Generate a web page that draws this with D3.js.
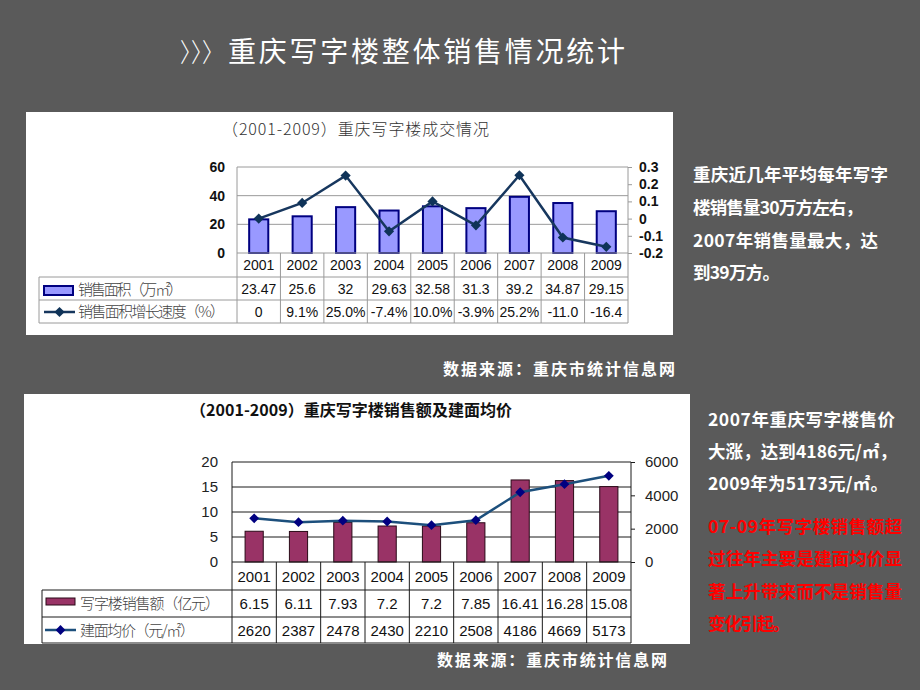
<!DOCTYPE html>
<html><head><meta charset="utf-8">
<script src="https://cdn.jsdelivr.net/npm/d3@7"></script>
<style>body{margin:0;background:#5a5a5a;} svg{display:block}</style>
</head><body>
<svg id="c" width="920" height="690"></svg>
<script>
const years = ["2001","2002","2003","2004","2005","2006","2007","2008","2009"];
const salesArea = [23.47,25.6,32,29.63,32.58,31.3,39.2,34.87,29.15];
const salesAreaLabels = ["23.47","25.6","32","29.63","32.58","31.3","39.2","34.87","29.15"];
const areaGrowth = [0,0.091,0.25,-0.074,0.10,-0.039,0.252,-0.11,-0.164];
const areaGrowthLabels = ["0","9.1%","25.0%","-7.4%","10.0%","-3.9%","25.2%","-11.0","-16.4"];
const areaTicks = [0,20,40,60];
const growthTicks = [-0.2,-0.1,0,0.1,0.2,0.3];
const salesAmount = [6.15,6.11,7.93,7.2,7.2,7.85,16.41,16.28,15.08];
const salesAmountLabels = ["6.15","6.11","7.93","7.2","7.2","7.85","16.41","16.28","15.08"];
const avgPrice = [2620,2387,2478,2430,2210,2508,4186,4669,5173];
const amountTicks = [0,5,10,15,20];
const priceTicks = [0,2000,4000,6000];

const CJK = "'Noto Sans CJK SC','Noto Sans',sans-serif";
const LAT = "'Liberation Sans',Arial,sans-serif";
const svg = d3.select("#c");
svg.append("rect").attr("width",920).attr("height",690).attr("fill","#5a5a5a");

// main title
svg.append("text").attr("x",180).attr("y",62).attr("fill","#fff")
  .style("font-family",CJK).style("font-weight",300).style("font-size","26px")
  .attr("textLength",44).attr("lengthAdjust","spacingAndGlyphs").text("〉〉〉");
svg.append("text").attr("x",228).attr("y",62).attr("fill","#fff")
  .style("font-family",CJK).style("font-weight",400).style("font-size","28px")
  .attr("textLength",397).text("重庆写字楼整体销售情况统计");

// ---------- panel 1 ----------
svg.append("rect").attr("x",26).attr("y",112).attr("width",647).attr("height",223).attr("fill","#fff");
svg.append("text").attr("x",222).attr("y",135).attr("fill","#333")
  .style("font-family",CJK).style("font-weight",300).style("font-size","16px")
  .attr("textLength",267).text("（2001-2009）重庆写字楼成交情况");

const g1 = svg.append("g");
const x1 = d3.scaleBand().domain(years).range([237,628]);
const y1 = d3.scaleLinear().domain([0,60]).range([253,167]);
const y1r = d3.scaleLinear().domain([-0.2,0.3]).range([253,167]);
const c1 = d => x1(d) + x1.bandwidth()/2;
const grid1 = "#9a9a9a";

areaTicks.filter(t=>t>0).forEach(t=>{
  g1.append("line").attr("x1",237).attr("x2",628).attr("y1",y1(t)).attr("y2",y1(t)).attr("stroke",grid1);
});
g1.append("line").attr("x1",237).attr("x2",237).attr("y1",y1(60)).attr("y2",323).attr("stroke",grid1);
g1.append("line").attr("x1",628).attr("x2",628).attr("y1",y1(60)).attr("y2",323).attr("stroke",grid1);

const axL1 = g1.append("g").attr("transform","translate(237,0)")
  .call(d3.axisLeft(y1).tickValues(areaTicks).tickSize(0).tickPadding(12));
axL1.select(".domain").remove();
axL1.selectAll("text").style("font-family",LAT).style("font-weight","bold").style("font-size","14px").attr("fill","#111");
const axR1 = g1.append("g").attr("transform","translate(628,0)")
  .call(d3.axisRight(y1r).tickValues(growthTicks).tickSize(4).tickPadding(7)
    .tickFormat(d => Math.abs(d)<1e-9 ? "0" : d.toFixed(1)));
axR1.select(".domain").remove();
axR1.selectAll("line").attr("stroke",grid1);
axR1.selectAll("text").style("font-family",LAT).style("font-weight","bold").style("font-size","14px").attr("fill","#111");

const bw1 = x1.bandwidth()*0.44;
g1.selectAll("rect.bar").data(years).join("rect").attr("class","bar")
  .attr("x",d=>c1(d)-bw1/2).attr("width",bw1)
  .attr("y",(d,i)=>y1(salesArea[i])).attr("height",(d,i)=>y1(0)-y1(salesArea[i]))
  .attr("fill","#9999ff").attr("stroke","#000080").attr("stroke-width",2);

g1.append("line").attr("x1",237).attr("x2",628).attr("y1",253).attr("y2",253).attr("stroke",grid1);

const line1 = d3.line().x((d,i)=>c1(years[i])).y(d=>y1r(d));
g1.append("path").datum(areaGrowth).attr("d",line1).attr("fill","none").attr("stroke","#17375e").attr("stroke-width",2.5);
g1.selectAll("path.mk").data(areaGrowth).join("path").attr("class","mk")
  .attr("d",d3.symbol(d3.symbolSquare,52))
  .attr("transform",(d,i)=>`translate(${c1(years[i])},${y1r(d)}) rotate(45)`)
  .attr("fill","#0f3358");

// table 1
[277,300,323].forEach(yy=>{
  g1.append("line").attr("x1",39).attr("x2",628).attr("y1",yy).attr("y2",yy).attr("stroke",grid1);
});
g1.append("line").attr("x1",39).attr("x2",39).attr("y1",277).attr("y2",323).attr("stroke",grid1);
years.slice(1).forEach(yv=>{
  g1.append("line").attr("x1",x1(yv)).attr("x2",x1(yv)).attr("y1",253).attr("y2",323).attr("stroke",grid1);
});
const tstyle = s => s.style("font-family",LAT).style("font-size","14px").attr("fill","#111").attr("text-anchor","middle");
g1.selectAll("text.yr").data(years).join("text").attr("class","yr").attr("x",d=>c1(d)).attr("y",270).text(d=>d).call(tstyle);
g1.selectAll("text.v1").data(salesAreaLabels).join("text").attr("class","v1").attr("x",(d,i)=>c1(years[i])).attr("y",294).text(d=>d).call(tstyle);
g1.selectAll("text.v2").data(areaGrowthLabels).join("text").attr("class","v2").attr("x",(d,i)=>c1(years[i])).attr("y",317).text(d=>d).call(tstyle);

g1.append("rect").attr("x",44).attr("y",286).attr("width",29).attr("height",9).attr("fill","#9999ff").attr("stroke","#000080").attr("stroke-width",2);
g1.append("text").attr("x",78).attr("y",295).attr("fill","#444").style("font-family",CJK).style("font-weight",300).style("font-size","15px").attr("textLength",105).text("销售面积（万㎡）");
g1.append("line").attr("x1",44).attr("x2",75).attr("y1",312).attr("y2",312).attr("stroke","#17375e").attr("stroke-width",2.5);
g1.append("path").attr("d",d3.symbol(d3.symbolSquare,52)).attr("transform","translate(59.5,312) rotate(45)").attr("fill","#0f3358");
g1.append("text").attr("x",78).attr("y",317).attr("fill","#444").style("font-family",CJK).style("font-weight",300).style("font-size","15px").attr("textLength",147).text("销售面积增长速度（%）");

// source 1
svg.append("text").attr("x",675).attr("y",375).attr("text-anchor","end").attr("fill","#fff")
  .style("font-family",CJK).style("font-weight","bold").style("font-size","16px").attr("textLength",232).text("数据来源：重庆市统计信息网");

// ---------- panel 2 ----------
svg.append("rect").attr("x",24).attr("y",394).attr("width",666).attr("height",250).attr("fill","#fff");
svg.append("text").attr("x",190).attr("y",416).attr("fill","#111")
  .style("font-family",CJK).style("font-weight","bold").style("font-size","16px")
  .attr("textLength",322).text("（2001-2009）重庆写字楼销售额及建面均价");

const g2 = svg.append("g");
const x2 = d3.scaleBand().domain(years).range([232,631]);
const y2 = d3.scaleLinear().domain([0,20]).range([562,462]);
const y2r = d3.scaleLinear().domain([0,6000]).range([562,462]);
const c2 = d => x2(d) + x2.bandwidth()/2;
const grid2 = "#1a1a1a";

amountTicks.filter(t=>t>0).forEach(t=>{
  g2.append("line").attr("x1",232).attr("x2",631).attr("y1",y2(t)).attr("y2",y2(t)).attr("stroke",grid2);
});
g2.append("line").attr("x1",232).attr("x2",232).attr("y1",y2(20)).attr("y2",643).attr("stroke",grid2);
g2.append("line").attr("x1",631).attr("x2",631).attr("y1",y2(20)).attr("y2",643).attr("stroke",grid2);

const axL2 = g2.append("g").attr("transform","translate(232,0)")
  .call(d3.axisLeft(y2).tickValues(amountTicks).tickSize(0).tickPadding(14));
axL2.select(".domain").remove();
axL2.selectAll("text").style("font-family",LAT).style("font-size","15px").attr("fill","#222");
const axR2 = g2.append("g").attr("transform","translate(631,0)")
  .call(d3.axisRight(y2r).tickValues(priceTicks).tickSize(4).tickPadding(10).tickFormat(d3.format("d")));
axR2.select(".domain").remove();
axR2.selectAll("line").attr("stroke",grid2);
axR2.selectAll("text").style("font-family",LAT).style("font-size","15px").attr("fill","#222");

const bw2 = x2.bandwidth()*0.41;
g2.selectAll("rect.bar").data(years).join("rect").attr("class","bar")
  .attr("x",d=>c2(d)-bw2/2).attr("width",bw2)
  .attr("y",(d,i)=>y2(salesAmount[i])).attr("height",(d,i)=>y2(0)-y2(salesAmount[i]))
  .attr("fill","#993366").attr("stroke","#2a0a18").attr("stroke-width",1);
g2.append("line").attr("x1",232).attr("x2",631).attr("y1",562).attr("y2",562).attr("stroke",grid2);

const line2 = d3.line().x((d,i)=>c2(years[i])).y(d=>y2r(d));
g2.append("path").datum(avgPrice).attr("d",line2).attr("fill","none").attr("stroke","#1c4f7c").attr("stroke-width",2.5);
g2.selectAll("path.mk").data(avgPrice).join("path").attr("class","mk")
  .attr("d",d3.symbol(d3.symbolSquare,48))
  .attr("transform",(d,i)=>`translate(${c2(years[i])},${y2r(d)}) rotate(45)`)
  .attr("fill","#000080");

[590,617,643].forEach(yy=>{
  g2.append("line").attr("x1",42).attr("x2",631).attr("y1",yy).attr("y2",yy).attr("stroke",grid2);
});
g2.append("line").attr("x1",42).attr("x2",42).attr("y1",590).attr("y2",643).attr("stroke",grid2);
years.slice(1).forEach(yv=>{
  g2.append("line").attr("x1",x2(yv)).attr("x2",x2(yv)).attr("y1",562).attr("y2",643).attr("stroke",grid2);
});
const tstyle2 = s => s.style("font-family",LAT).style("font-size","15px").attr("fill","#111").attr("text-anchor","middle");
g2.selectAll("text.yr").data(years).join("text").attr("class","yr").attr("x",d=>c2(d)).attr("y",582).text(d=>d).call(tstyle2);
g2.selectAll("text.v1").data(salesAmountLabels).join("text").attr("class","v1").attr("x",(d,i)=>c2(years[i])).attr("y",609).text(d=>d).call(tstyle2);
g2.selectAll("text.v2").data(avgPrice).join("text").attr("class","v2").attr("x",(d,i)=>c2(years[i])).attr("y",636).text(d=>d).call(tstyle2);

g2.append("rect").attr("x",46).attr("y",598).attr("width",29).attr("height",7).attr("fill","#993366").attr("stroke","#2a0a18").attr("stroke-width",1);
g2.append("text").attr("x",80).attr("y",609).attr("fill","#444").style("font-family",CJK).style("font-weight",300).style("font-size","15px").attr("textLength",140).text("写字楼销售额（亿元）");
g2.append("line").attr("x1",45).attr("x2",76).attr("y1",630).attr("y2",630).attr("stroke","#1c4f7c").attr("stroke-width",2.5);
g2.append("path").attr("d",d3.symbol(d3.symbolSquare,48)).attr("transform","translate(60.5,630) rotate(45)").attr("fill","#000080");
g2.append("text").attr("x",80).attr("y",636).attr("fill","#444").style("font-family",CJK).style("font-weight",300).style("font-size","15px").attr("textLength",115).text("建面均价（元/㎡）");

// source 2
svg.append("text").attr("x",667).attr("y",666).attr("text-anchor","end").attr("fill","#fff")
  .style("font-family",CJK).style("font-weight","bold").style("font-size","16px").attr("textLength",230).text("数据来源：重庆市统计信息网");

// ---------- side notes ----------
const note1 = [
  {t:"重庆近几年平均每年写字", y:181, w:195},
  {t:"楼销售量30万方左右，", y:214, w:170},
  {t:"2007年销售量最大，达", y:247, w:185},
  {t:"到39万方。", y:279, w:87}
];
const note2 = [
  {t:"2007年重庆写字楼售价", y:426, w:187, c:"#fff"},
  {t:"大涨，达到4186元/㎡，", y:458, w:189, c:"#fff"},
  {t:"2009年为5173元/㎡。", y:490, w:180, c:"#fff"},
  {t:"07-09年写字楼销售额超", y:533, w:194, c:"#ff0000"},
  {t:"过往年主要是建面均价显", y:565, w:194, c:"#ff0000"},
  {t:"著上升带来而不是销售量", y:598, w:194, c:"#ff0000"},
  {t:"变化引起。", y:630, w:82, c:"#ff0000"}
];
svg.selectAll("text.n1").data(note1).join("text").attr("class","n1")
  .attr("x",693).attr("y",d=>d.y).attr("fill","#fff").attr("textLength",d=>d.w)
  .style("font-family",CJK).style("font-weight","bold").style("font-size","17.5px").text(d=>d.t);
svg.selectAll("text.n2").data(note2).join("text").attr("class","n2")
  .attr("x",708).attr("y",d=>d.y).attr("fill",d=>d.c).attr("textLength",d=>d.w)
  .style("font-family",CJK).style("font-weight","bold").style("font-size","17.5px").text(d=>d.t);
</script>
</body></html>
